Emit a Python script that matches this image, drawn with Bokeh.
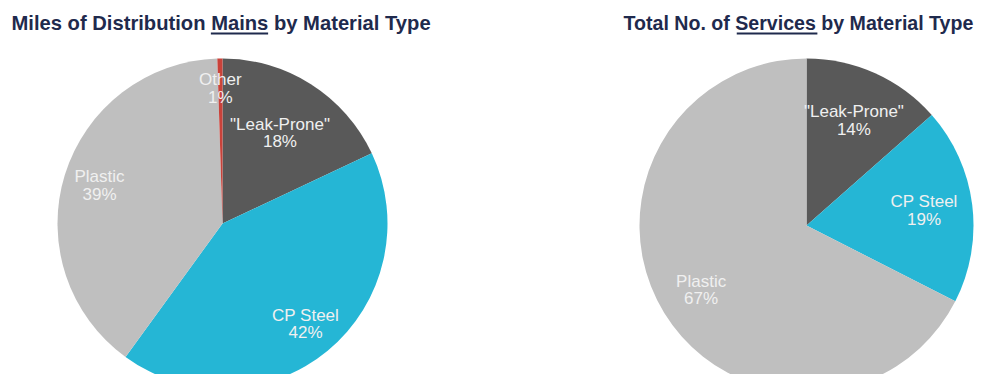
import math
from bokeh.plotting import figure
from bokeh.models import Range1d, ColumnDataSource
from bokeh.core.properties import value
from bokeh.embed import file_html
from bokeh.resources import INLINE

# ---- data ----
mains_categories = ['"Leak-Prone"', "CP Steel", "Plastic", "Other"]
mains_values = [18.0, 42.0, 39.5, 0.5]
mains_pct_labels = ["18%", "42%", "39%", "1%"]

services_categories = ['"Leak-Prone"', "CP Steel", "Plastic"]
services_values = [13.5, 19.0, 67.5]
services_pct_labels = ["14%", "19%", "67%"]

colors = {'"Leak-Prone"': "#595959", "CP Steel": "#25B6D5", "Plastic": "#BFBFBF", "Other": "#C9423A"}

W, H = 977, 374
p = figure(width=W, height=H, output_backend="svg", toolbar_location=None,
           x_range=Range1d(0, W), y_range=Range1d(0, H),
           min_border=0, outline_line_color=None)
p.axis.visible = False
p.grid.visible = False
p.background_fill_color = "white"
p.border_fill_color = "white"

def Y(ref_y):
    return H - ref_y

def draw_pie(cx, cy_ref, r, cats, vals, pct, factors):
    total = float(sum(vals))
    cy = Y(cy_ref)
    starts, ends, cols = [], [], []
    lx, ly, txt = [], [], []
    cum = 0.0
    for c, v, pl, f in zip(cats, vals, pct, factors):
        a0 = cum / total
        cum += v
        a1 = cum / total
        starts.append(math.pi / 2 - a1 * 2 * math.pi)
        ends.append(math.pi / 2 - a0 * 2 * math.pi)
        cols.append(colors[c])
        mid = (a0 + a1) / 2 * 2 * math.pi
        lx.append(cx + f * r * math.sin(mid))
        ly.append(cy + f * r * math.cos(mid))
        txt.append(c + "\n" + pl)
    src = ColumnDataSource(dict(start=starts, end=ends, color=cols))
    p.wedge(x=cx, y=cy, radius=r, start_angle="start", end_angle="end",
            direction="anticlock", fill_color="color", line_color=None, source=src)
    lsrc = ColumnDataSource(dict(x=lx, y=ly, text=txt))
    p.text(x="x", y="y", text="text", source=lsrc, text_align="center",
           text_baseline="middle", text_font=value("Liberation Sans"),
           text_font_size="17px", text_color="#F0F0F0", text_line_height=0.94)

draw_pie(222, 223, 165, mains_categories, mains_values, mains_pct_labels, [0.65, 0.79, 0.78, 0.82])
draw_pie(806, 225, 167, services_categories, services_values, services_pct_labels, [0.69, 0.71, 0.74])

# ---- titles (one string each, underline under the key word) ----
title_color = "#1F2A4D"
def title(x, s, size, prefix_em, word_em):
    p.text(x=[x], y=[Y(22)], text=[s], text_align="left", text_baseline="middle",
           text_font=value("Liberation Sans"), text_font_style="bold",
           text_font_size=f"{size}px", text_color=title_color)
    u0 = x + prefix_em * size
    u1 = u0 + word_em * size
    p.segment(x0=[u0], y0=[Y(33)], x1=[u1], y1=[Y(33)], line_color=title_color, line_width=2)

title(11, "Miles of Distribution Mains by Material Type", 20.2, 9.870, 2.834)
title(623, "Total No. of Services by Material Type", 19.6, 5.778, 4.114)

open("out.html", "w").write(file_html(p, INLINE))
